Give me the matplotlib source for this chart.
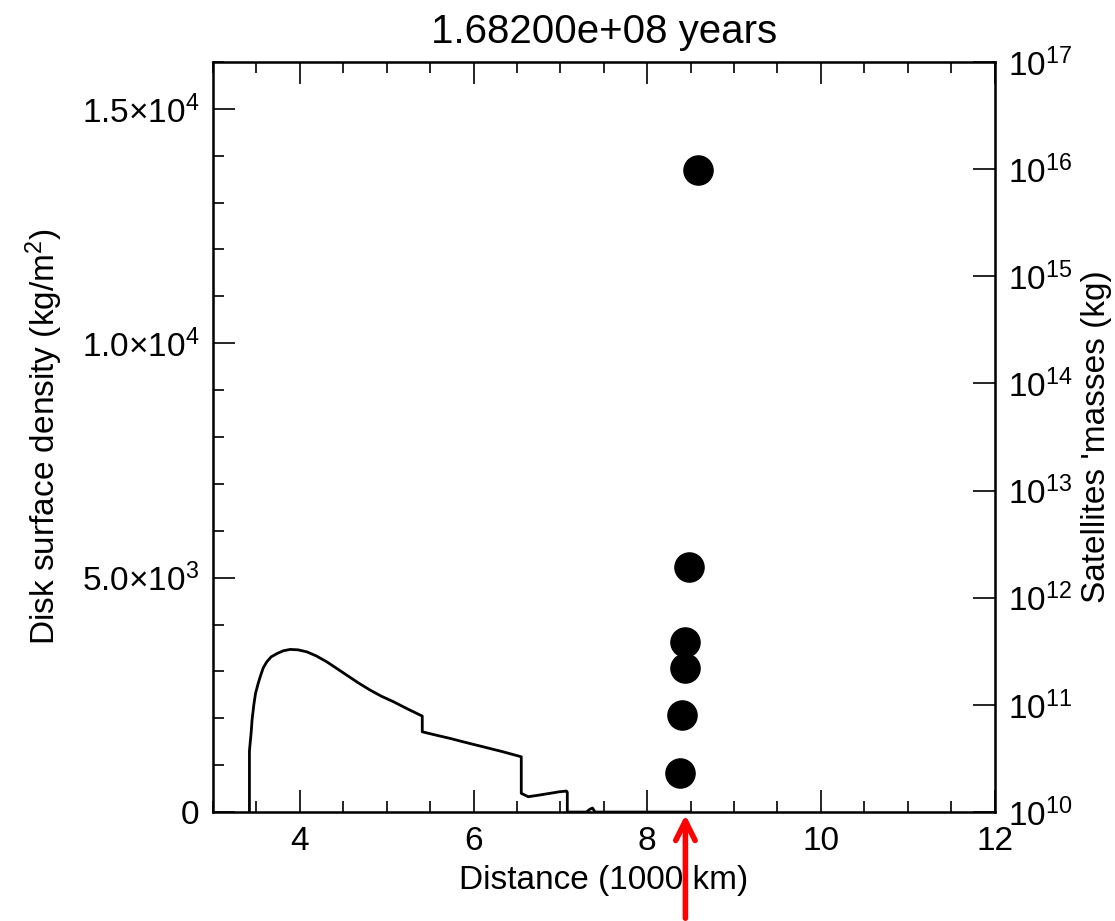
import matplotlib
matplotlib.use('Agg')
import matplotlib.pyplot as plt
import matplotlib.ticker as mticker
import matplotlib.transforms as mtransforms
import numpy as np

plt.rcParams['font.family'] = ['Liberation Sans', 'DejaVu Sans']
plt.rcParams['mathtext.fontset'] = 'custom'
plt.rcParams['mathtext.rm'] = 'Liberation Sans'
plt.rcParams['mathtext.it'] = 'Liberation Sans'

# disk surface density profile
dist = [3.42, 3.42, 3.44, 3.45, 3.47, 3.49, 3.52, 3.55, 3.58, 3.62, 3.67, 3.74, 3.81, 3.89,
        3.98, 4.08, 4.19, 4.31, 4.42, 4.54, 4.67, 4.81, 4.94, 5.08, 5.24, 5.41,
        5.41, 5.57, 5.73, 5.92, 6.11, 6.33, 6.55, 6.55, 6.63, 6.75, 6.88, 6.98, 7.07, 7.08, 7.08,
        7.30, 7.34, 7.37, 7.40, 8.5]
sigma = [0, 1307, 1700, 1962, 2280, 2531, 2740, 2921, 3080, 3205, 3310, 3383, 3440, 3469,
         3460, 3418, 3330, 3205, 3070, 2921, 2760, 2601, 2470, 2352, 2200, 2047,
         1712, 1640, 1571, 1480, 1392, 1290, 1179, 399, 327, 360, 399, 430, 448, 420, 0,
         0, 60, 85, 0, 0]

# satellites
sat_dist = [8.59, 8.48, 8.44, 8.43, 8.40, 8.38]
sat_mass = [9.8e15, 1.95e12, 3.9e11, 2.2e11, 8.0e10, 2.3e10]

arrow_x = 8.44
title = '1.68200e+08 years'

fig = plt.figure(figsize=(11.15, 9.21), dpi=100)
ax = fig.add_axes([0.191, 0.1183, 0.701, 0.8144])

ax.plot(dist, sigma, color='black', lw=2)
ax.set_xlim(3, 12)
ax.set_ylim(0, 16000)
ax.xaxis.set_major_locator(mticker.FixedLocator([4, 6, 8, 10, 12]))
ax.xaxis.set_minor_locator(mticker.MultipleLocator(0.5))
ax.yaxis.set_major_locator(mticker.FixedLocator([0, 5000, 10000, 15000]))
ax.yaxis.set_minor_locator(mticker.MultipleLocator(1000))
ax.set_yticklabels(['0', '5.0×10$^{3}$', '1.0×10$^{4}$', '1.5×10$^{4}$'])
ax.tick_params(axis='both', which='major', direction='in', length=16, width=1.2,
               labelsize=24, top=True, right=False, pad=10)
ax.tick_params(axis='both', which='minor', direction='in', length=8, width=1.2,
               top=True, right=False)
for s in ax.spines.values():
    s.set_linewidth(1.8)

ax.set_xlabel('Distance (1000 km)', fontsize=24, labelpad=6)
ax.set_ylabel(r'Disk surface density (kg/m$^2$)', fontsize=24, labelpad=12)
ax.set_title(title, fontsize=29, pad=14)

ax2 = ax.twinx()
ax2.set_yscale('log')
ax2.set_ylim(1e10, 1e17)
ax2.plot(sat_dist, sat_mass, 'o', color='black', ms=21)
ax2.yaxis.set_major_locator(mticker.LogLocator(base=10, numticks=20))
ax2.yaxis.set_minor_locator(mticker.NullLocator())
ax2.tick_params(axis='y', which='major', direction='in', length=16, width=1.2,
                labelsize=24, pad=10)
ax2.set_ylabel("Satellites 'masses (kg)", fontsize=24, labelpad=6)

trans = mtransforms.blended_transform_factory(ax.transData, fig.transFigure)
ax.annotate('', xy=(arrow_x, 0), xycoords='data', xytext=(arrow_x, 0.0), textcoords=trans,
            arrowprops=dict(arrowstyle='->', color='red', lw=4, mutation_scale=35),
            annotation_clip=False)

fig.savefig('out.png', dpi=100)
